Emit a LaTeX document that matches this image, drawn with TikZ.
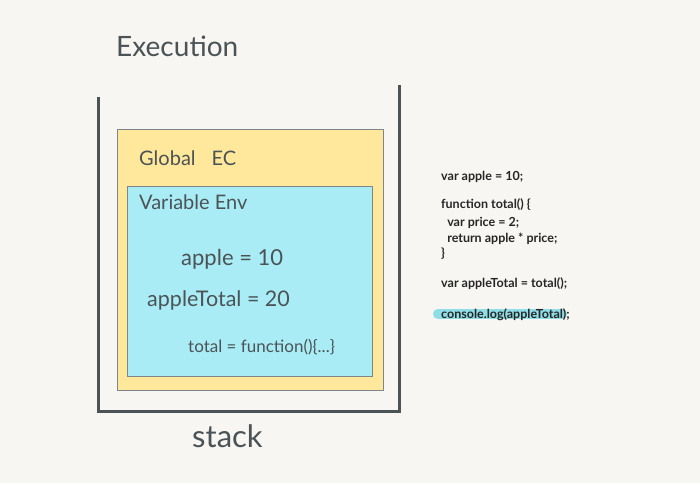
\documentclass[tikz,border=0pt]{standalone}
\usepackage{fontspec}
\setmainfont{Lato}
\usetikzlibrary{positioning}

\definecolor{paper}{HTML}{F7F6F2}
\definecolor{ink}{HTML}{4B5356}
\definecolor{ecyellow}{HTML}{FFE79B}
\definecolor{envcyan}{HTML}{A9ECF5}
\definecolor{boxline}{HTML}{7E8688}
\definecolor{marker}{HTML}{8FDDE6}

\begin{document}
\begin{tikzpicture}[
        x=1pt, y=-1pt,
        hand/.style={text=ink, inner sep=0pt, anchor=base west},
        box_ec/.style={draw=boxline, line width=0.8pt, fill=ecyellow},
        box_env/.style={draw=boxline, line width=0.8pt, fill=envcyan},
        code/.style={text=black!85, font=\fontsize{12.5}{15}\selectfont\bfseries, inner sep=0pt, anchor=base west}
    ]

    % ==================== Paper ====================
    \fill[paper] (0, 0) rectangle (700, 483);
    \useasboundingbox (0, 0) rectangle (700, 483);

    % ==================== Stack (Left) ====================
    \node[hand, font=\fontsize{28}{32}\selectfont] (title_exec) at (116, 56) {Execution};

    \draw[ink, line width=3pt] (98, 97) -- (98, 411) -- (399, 411) -- (399, 85);

    \node[hand, font=\fontsize{31}{35}\selectfont] (title_stack) at (192, 447) {stack};

    % Global EC
    \draw[box_ec] (117, 129) rectangle (383, 390);
    \node[hand, font=\fontsize{20}{24}\selectfont] (global_ec) at (139, 165) {Global\hspace{16pt}EC};

    % Variable Env
    \draw[box_env] (127, 186) rectangle (372, 376);
    \node[hand, font=\fontsize{20}{24}\selectfont] (var_env) at (139, 209) {Variable Env};

    % Bindings
    \node[hand, font=\fontsize{22}{26}\selectfont] (bind_apple) at (181, 265) {apple = 10};
    \node[hand, font=\fontsize{21.5}{25}\selectfont] (bind_total) at (147, 306) {appleTotal = 20};
    \node[hand, font=\fontsize{17}{20}\selectfont] (bind_func) at (188, 352) {total = function()\{...\}};

    % ==================== Code (Right) ====================
    \draw[marker, line width=10pt, line cap=round] (438, 314) -- (562, 314);

    \node[code] (line_apple) at (441, 180) {var apple = 10;};
    \node[code] (line_func) at (441, 208) {function total() \{};
    \node[code] (line_price) at (441, 226) {\ \ var price = 2;};
    \node[code] (line_return) at (441, 242) {\ \ return apple * price;};
    \node[code] (line_close) at (441, 257) {\}};
    \node[code] (line_call) at (441, 287) {var appleTotal = total();};
    \node[code] (line_log) at (441, 318) {console.log(appleTotal);};

\end{tikzpicture}
\end{document}
